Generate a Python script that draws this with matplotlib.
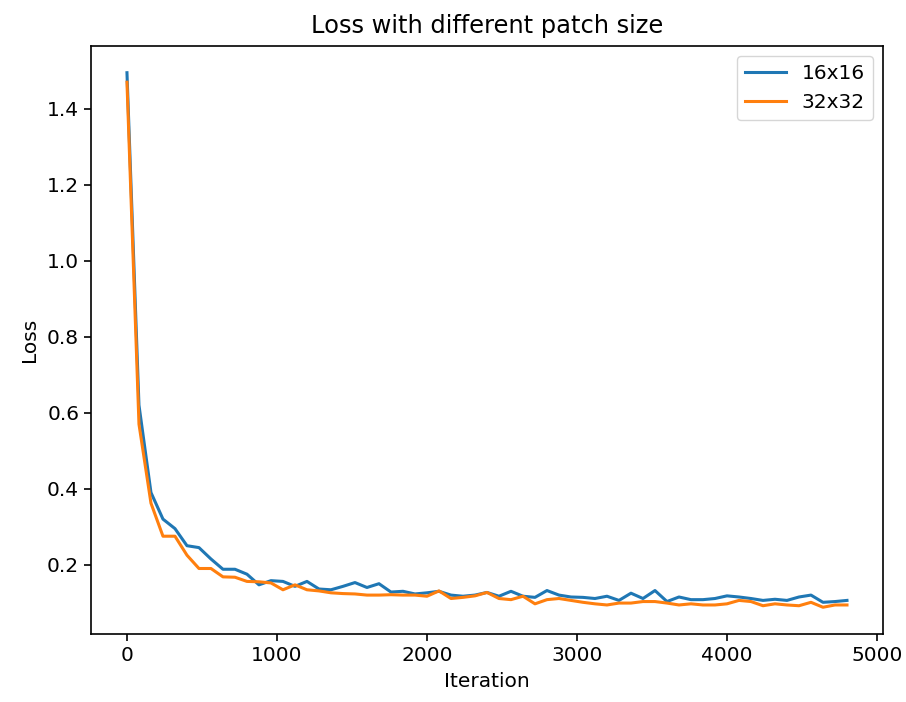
import numpy as np
import matplotlib
matplotlib.use('Agg')
import matplotlib.pyplot as plt

# iterations, logged every 80 steps
iterations = np.arange(0, 4801, 80)

loss_16 = [1.495, 0.62, 0.39, 0.32, 0.295, 0.25, 0.245, 0.215, 0.188, 0.188,
           0.175, 0.147, 0.158, 0.156, 0.143, 0.156, 0.136, 0.134, 0.143, 0.153,
           0.14, 0.15, 0.128, 0.13, 0.123, 0.126, 0.13, 0.12, 0.117, 0.12,
           0.127, 0.117, 0.13, 0.117, 0.114, 0.132, 0.12, 0.115, 0.114, 0.111,
           0.117, 0.106, 0.125, 0.111, 0.132, 0.103, 0.115, 0.108, 0.108, 0.111,
           0.118, 0.115, 0.111, 0.106, 0.109, 0.106, 0.115, 0.12, 0.101, 0.103,
           0.106]

loss_32 = [1.47, 0.57, 0.362, 0.275, 0.275, 0.225, 0.19, 0.19, 0.168, 0.167,
           0.156, 0.155, 0.152, 0.134, 0.147, 0.134, 0.131, 0.126, 0.124, 0.123,
           0.12, 0.12, 0.121, 0.12, 0.12, 0.117, 0.131, 0.111, 0.114, 0.118,
           0.127, 0.111, 0.108, 0.117, 0.097, 0.108, 0.111, 0.106, 0.101, 0.097,
           0.094, 0.099, 0.099, 0.103, 0.103, 0.099, 0.094, 0.097, 0.094, 0.094,
           0.097, 0.106, 0.103, 0.092, 0.097, 0.094, 0.092, 0.101, 0.088, 0.094,
           0.094]

labels = ['16x16', '32x32']

fig = plt.figure(figsize=(9.06, 7.02), dpi=100)
ax = fig.add_axes([0.1004, 0.0969, 0.8742, 0.8376])

ax.plot(iterations, loss_16, label=labels[0], linewidth=2.2)
ax.plot(iterations, loss_32, label=labels[1], linewidth=2.2)

ax.set_title('Loss with different patch size', fontsize=17.4, pad=9)
ax.set_xlabel('Iteration', fontsize=14.5, labelpad=5)
ax.set_ylabel('Loss', fontsize=14.5, labelpad=6)
ax.tick_params(labelsize=14.5, width=1.2, length=5)
for s in ax.spines.values():
    s.set_linewidth(1.2)
ax.legend(fontsize=14.5, loc='upper right')

fig.savefig('out.png', dpi=100)
